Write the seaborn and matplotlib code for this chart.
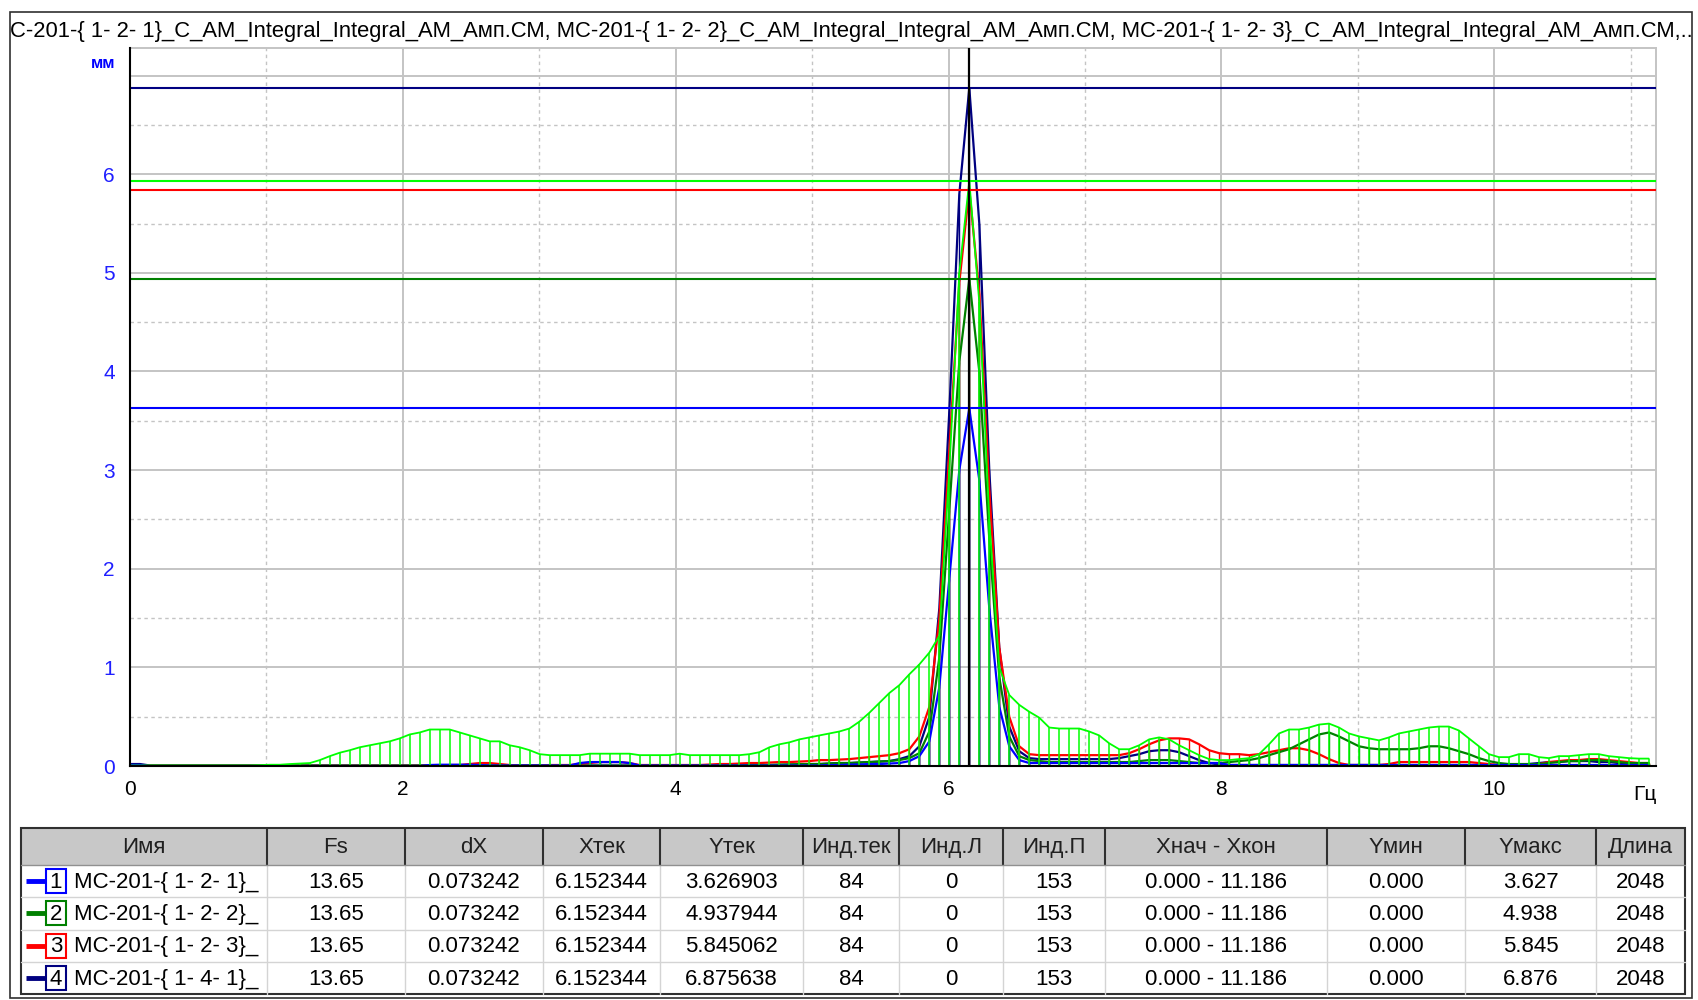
import numpy as np
import pandas as pd
import matplotlib
matplotlib.use("Agg")
import matplotlib.pyplot as plt
import seaborn as sns
from matplotlib.patches import Rectangle
from matplotlib.lines import Line2D
from matplotlib.ticker import MultipleLocator, FixedLocator, FixedFormatter

# ---------------- data ----------------
DX = 0.073242
X_END = 11.186
X_CURSOR = 6.152344

# series 5 (lime, drawn with stems) - 153 samples
lime = ([0.005] * 13 + [0.008] +
        [0.013, 0.013, 0.02, 0.025, 0.03, 0.06] +
        [0.10, 0.135, 0.16, 0.19, 0.21, 0.23, 0.25, 0.28, 0.32, 0.34] +
        [0.37, 0.37, 0.37, 0.34, 0.31, 0.28, 0.25, 0.25, 0.21, 0.19] +
        [0.16, 0.12, 0.11, 0.11, 0.11, 0.11, 0.125, 0.125, 0.125, 0.125] +
        [0.125, 0.11, 0.11, 0.11, 0.11, 0.125, 0.11, 0.11, 0.11, 0.11] +
        [0.11, 0.11, 0.12, 0.14, 0.19, 0.22, 0.24, 0.27, 0.29, 0.31] +
        [0.33, 0.35, 0.38, 0.45, 0.54, 0.64, 0.74, 0.82, 0.93, 1.03] +
        [1.15, 1.32, 3.0, 5.0, 5.93, 4.7, 2.5, 1.0, 0.72, 0.62] +
        [0.55, 0.49, 0.39, 0.38, 0.38, 0.38, 0.35, 0.31, 0.23, 0.17] +
        [0.17, 0.21, 0.27, 0.29, 0.27, 0.21, 0.16, 0.11, 0.07, 0.06] +
        [0.06, 0.07, 0.08, 0.12, 0.22, 0.33, 0.37, 0.37, 0.39, 0.42] +
        [0.43, 0.39, 0.33, 0.30, 0.28, 0.26, 0.29, 0.33, 0.35, 0.37] +
        [0.39, 0.40, 0.40, 0.36, 0.28, 0.20, 0.12, 0.09, 0.09, 0.12] +
        [0.12, 0.09, 0.08, 0.10, 0.10, 0.11, 0.12, 0.12, 0.10, 0.09] +
        [0.08, 0.075, 0.075])

s1_blue = ([0.01, 0.01] + [0.0] * 28 +
           [0.01, 0.013, 0.013, 0.013, 0.013, 0.01, 0.005, 0.005, 0.005, 0.005] +
           [0.005] * 5 + [0.03, 0.04, 0.04, 0.04, 0.04] +
           [0.03] + [0.005] * 19 +
           [0.01, 0.01, 0.015, 0.015, 0.02, 0.02, 0.025, 0.03, 0.05, 0.1] +
           [0.25, 0.8, 1.9, 3.0, 3.627, 2.9, 1.6, 0.6, 0.2, 0.06] +
           [0.03] * 20 + [0.01] * 43)

s2_green = ([0.003] * 60 +
            [0.005, 0.005, 0.01, 0.01, 0.01, 0.015, 0.015, 0.02, 0.02, 0.02] +
            [0.025, 0.03, 0.03, 0.035, 0.04, 0.045, 0.05, 0.06, 0.08, 0.13] +
            [0.35, 1.1, 2.6, 4.1, 4.938, 4.0, 2.3, 0.9, 0.3, 0.1] +
            [0.06, 0.05, 0.04, 0.04, 0.04, 0.04, 0.04, 0.04, 0.04, 0.04] +
            [0.04, 0.05, 0.06, 0.06, 0.06, 0.05, 0.04, 0.03, 0.03, 0.03] +
            [0.04, 0.05, 0.06, 0.08, 0.11, 0.14, 0.17, 0.22, 0.27, 0.32] +
            [0.34, 0.30, 0.25, 0.20, 0.18, 0.17, 0.17, 0.17, 0.17, 0.18] +
            [0.20, 0.20, 0.18, 0.15, 0.12, 0.08, 0.05, 0.03, 0.02, 0.02] +
            [0.02, 0.02, 0.03, 0.04, 0.05, 0.05, 0.06, 0.06, 0.05, 0.04] +
            [0.03, 0.03, 0.03])

s3_red = ([0.003] * 30 +
          [0.005, 0.005, 0.01, 0.01, 0.02, 0.03, 0.03, 0.02] +
          [0.01, 0.005, 0.005, 0.005, 0.01, 0.01, 0.01] +
          [0.02, 0.03, 0.04, 0.04, 0.04, 0.03] +
          [0.01, 0.01, 0.01, 0.01, 0.01, 0.01, 0.01, 0.015, 0.02] +
          [0.02, 0.025, 0.03, 0.03, 0.035, 0.04, 0.04, 0.045, 0.05, 0.06] +
          [0.06, 0.065, 0.07, 0.08, 0.09, 0.1, 0.11, 0.13, 0.17, 0.3] +
          [0.6, 1.5, 3.2, 4.9, 5.845, 4.8, 2.8, 1.2, 0.5, 0.2] +
          [0.12, 0.11, 0.11, 0.11, 0.11, 0.11, 0.11, 0.11, 0.11, 0.11] +
          [0.13, 0.17, 0.22, 0.26, 0.28, 0.28, 0.27, 0.22, 0.16, 0.13] +
          [0.12, 0.12, 0.11, 0.12, 0.14, 0.16, 0.18, 0.18, 0.16, 0.12] +
          [0.07, 0.03, 0.01, 0.01, 0.01, 0.01, 0.02, 0.04, 0.04, 0.04] +
          [0.04, 0.04, 0.04, 0.04, 0.04, 0.03, 0.02, 0.01, 0.01, 0.01] +
          [0.01, 0.02, 0.04, 0.05, 0.06, 0.06, 0.07, 0.07, 0.06, 0.05] +
          [0.04, 0.03, 0.03])

s4_navy = ([0.02, 0.02] + [0.005] * 60 +
           [0.01, 0.01, 0.01, 0.01, 0.015, 0.015, 0.02, 0.02] +
           [0.025, 0.03, 0.03, 0.035, 0.04, 0.045, 0.05, 0.07, 0.1, 0.2] +
           [0.5, 1.6, 3.6, 5.8, 6.876, 5.5, 3.0, 1.2, 0.4, 0.15] +
           [0.08, 0.07, 0.07, 0.07, 0.07, 0.07, 0.07, 0.07, 0.07, 0.08] +
           [0.1, 0.12, 0.15, 0.16, 0.16, 0.14, 0.1, 0.06, 0.03, 0.015] +
           [0.01] * 30 +
           [0.02, 0.03, 0.04, 0.04, 0.05, 0.05, 0.05, 0.04, 0.04, 0.03] +
           [0.02, 0.02, 0.02])

series_names = ["МС-201-{ 1- 2- 1}_", "МС-201-{ 1- 2- 2}_",
                "МС-201-{ 1- 2- 3}_", "МС-201-{ 1- 4- 1}_"]
series_colors = ["#0000ff", "#008000", "#ff0000", "#000080"]
lime_color = "#00ff00"
y_max = [3.627, 4.938, 5.845, 6.876]
lime_max = 5.93

col_headers = ["Имя", "Fs", "dX", "Xтек", "Yтек", "Инд.тек", "Инд.Л",
               "Инд.П", "Xнач - Xкон", "Yмин", "Yмакс", "Длина"]
fs_vals = ["13.65", "13.65", "13.65", "13.65"]
dx_vals = ["0.073242", "0.073242", "0.073242", "0.073242"]
xtek_vals = ["6.152344", "6.152344", "6.152344", "6.152344"]
ytek_vals = ["3.626903", "4.937944", "5.845062", "6.875638"]
indtek_vals = ["84", "84", "84", "84"]
indl_vals = ["0", "0", "0", "0"]
indp_vals = ["153", "153", "153", "153"]
xrange_vals = ["0.000 - 11.186"] * 4
ymin_vals = ["0.000", "0.000", "0.000", "0.000"]
ymax_vals = ["3.627", "4.938", "5.845", "6.876"]
len_vals = ["2048", "2048", "2048", "2048"]

title = ("С-201-{ 1- 2- 1}_С_АМ_Integral_Integral_АМ_Амп.СМ, "
         "МС-201-{ 1- 2- 2}_С_АМ_Integral_Integral_АМ_Амп.СМ, "
         "МС-201-{ 1- 2- 3}_С_АМ_Integral_Integral_АМ_Амп.СМ,..")

# ---------------- figure ----------------
sns.set_style("white")
plt.rcParams['font.family'] = ['Liberation Sans', 'DejaVu Sans']

W, H = 1699, 1000
fig = plt.figure(figsize=(W / 100, H / 100), dpi=100)
fig.patch.set_facecolor("white")

def fx(px):
    return px / W

def fy(py):
    return 1 - py / H

n = len(lime)
x = np.arange(n) * DX
df = pd.DataFrame({"x": x, "s1": s1_blue, "s2": s2_green, "s3": s3_red,
                   "s4": s4_navy, "s5": lime})

ax_l, ax_t, ax_r, ax_b = 130, 48, 1656, 766
ax = fig.add_axes([fx(ax_l), fy(ax_b), fx(ax_r - ax_l), (ax_b - ax_t) / H])
ax.set_xlim(0, X_END)
ax.set_ylim(0, 7.28)

# grid
grid_c = "#c4c4c4"
for yv in range(1, 8):
    ax.axhline(yv, color=grid_c, lw=1.4, zorder=0)
for yv in np.arange(0.5, 7, 1.0):
    ax.axhline(yv, color=grid_c, lw=1.0, ls=(0, (2.5, 2.5)), zorder=0)
for xv in [2, 4, 6, 8, 10]:
    ax.axvline(xv, color=grid_c, lw=1.4, zorder=0)
for xv in [1, 3, 5, 7, 9, 11]:
    ax.axvline(xv, color=grid_c, lw=1.0, ls=(0, (2.5, 2.5)), zorder=0)

# series: stems + lines
order = [("s4", series_colors[3]), ("s3", series_colors[2]),
         ("s2", series_colors[1]), ("s1", series_colors[0])]
z = 2
for key, c in order:
    ax.vlines(df["x"], 0, df[key], color=c, lw=1.0, zorder=z)
    sns.lineplot(data=df, x="x", y=key, color=c, lw=1.6, ax=ax,
                 estimator=None, sort=False, zorder=z + 0.5)
    z += 1
ax.vlines(df["x"], 0, df["s5"], color=lime_color, lw=1.1, zorder=z)
sns.lineplot(data=df, x="x", y="s5", color=lime_color, lw=1.3, ax=ax,
             estimator=None, sort=False, zorder=z + 0.5)

# max lines
for v, c in zip(y_max, series_colors):
    ax.axhline(v, color=c, lw=1.5, zorder=8)
ax.axhline(lime_max, color=lime_color, lw=1.5, zorder=8)

# cursor
ax.axvline(X_CURSOR, color="black", lw=1.6, zorder=10)

ax.set_xlabel("")
ax.set_ylabel("")

# spines / ticks
for s in ["left", "bottom"]:
    ax.spines[s].set_color("black")
    ax.spines[s].set_linewidth(1.5)
    ax.spines[s].set_zorder(12)
for s in ["top", "right"]:
    ax.spines[s].set_color("#c4c4c4")
    ax.spines[s].set_linewidth(1.4)

ax.xaxis.set_major_locator(FixedLocator([0, 2, 4, 6, 8, 10]))
ax.xaxis.set_major_formatter(FixedFormatter(["0", "2", "4", "6", "8", "10"]))
ax.xaxis.set_minor_locator(MultipleLocator(0.2))
ax.yaxis.set_major_locator(FixedLocator([0, 1, 2, 3, 4, 5, 6, 7]))
ax.yaxis.set_major_formatter(FixedFormatter(["0", "1", "2", "3", "4", "5", "6", ""]))
ax.yaxis.set_minor_locator(MultipleLocator(0.1))
ax.tick_params(axis="x", which="major", direction="out", length=6, width=1.3,
               color="black", labelsize=15, pad=4, labelcolor="black")
ax.tick_params(axis="x", which="minor", direction="out", length=3, width=1.0,
               color="black")
ax.tick_params(axis="y", which="major", direction="out", length=6, width=1.3,
               color="black", labelsize=15, pad=5, labelcolor="#1f1fff")
ax.tick_params(axis="y", which="minor", direction="out", length=3, width=1.0,
               color="black")

# axis unit labels
fig.text(fx(115), fy(63), "мм", ha="right", va="center", color="#0000ff",
         fontsize=12, fontweight="bold")
fig.text(fx(1645), fy(795), "Гц", ha="center", va="center", color="black",
         fontsize=15)

# title
fig.text(fx(10), fy(31), title, ha="left", va="center", fontsize=15.8,
         color="black")

# outer frame
fig.patches.append(Rectangle((fx(10), fy(998)), fx(1692 - 10), (998 - 12) / H,
                             transform=fig.transFigure, fill=False,
                             edgecolor="#303030", lw=1.2))

# ---------------- table ----------------
col_x = [21, 267, 405, 543, 660, 803, 899, 1003, 1105, 1327, 1465, 1596, 1685]
row_y = [828, 865, 897.3, 929.6, 961.9, 994.2]

fig.patches.append(Rectangle((fx(col_x[0]), fy(row_y[1])),
                             fx(col_x[-1] - col_x[0]), (row_y[1] - row_y[0]) / H,
                             transform=fig.transFigure, facecolor="#c8c8c8",
                             edgecolor="none"))

def hline(x0, x1, y, c, lw):
    fig.lines.append(Line2D([fx(x0), fx(x1)], [fy(y), fy(y)],
                            transform=fig.transFigure, color=c, lw=lw))

def vline(x, y0, y1, c, lw):
    fig.lines.append(Line2D([fx(x), fx(x)], [fy(y0), fy(y1)],
                            transform=fig.transFigure, color=c, lw=lw))

for yy in row_y[2:-1]:
    hline(col_x[0], col_x[-1], yy, "#d4d4d4", 1.0)
for xx in col_x[1:-1]:
    vline(xx, row_y[1], row_y[-1], "#d4d4d4", 1.0)
    vline(xx, row_y[0], row_y[1], "#303030", 1.5)
hline(col_x[0], col_x[-1], row_y[1], "#909090", 1.0)
fig.patches.append(Rectangle((fx(col_x[0]), fy(row_y[-1])),
                             fx(col_x[-1] - col_x[0]), (row_y[-1] - row_y[0]) / H,
                             transform=fig.transFigure, fill=False,
                             edgecolor="#303030", lw=1.5))

tfs = 16
for j, h in enumerate(col_headers):
    fig.text(fx((col_x[j] + col_x[j + 1]) / 2), fy((row_y[0] + row_y[1]) / 2 + 1),
             h, ha="center", va="center", fontsize=tfs, color="#202020")

columns = [fs_vals, dx_vals, xtek_vals, ytek_vals, indtek_vals, indl_vals,
           indp_vals, xrange_vals, ymin_vals, ymax_vals, len_vals]
for i in range(4):
    yc = (row_y[i + 1] + row_y[i + 2]) / 2
    c = series_colors[i]
    fig.lines.append(Line2D([fx(26), fx(46)], [fy(yc), fy(yc)],
                            transform=fig.transFigure, color=c, lw=3.5,
                            solid_capstyle="butt"))
    fig.patches.append(Rectangle((fx(46), fy(yc + 12)), fx(20), 24 / H,
                                 transform=fig.transFigure, facecolor="white",
                                 edgecolor=c, lw=1.5))
    fig.text(fx(56), fy(yc + 1), str(i + 1), ha="center", va="center",
             fontsize=tfs, color="black")
    fig.text(fx(74), fy(yc + 1), series_names[i], ha="left", va="center",
             fontsize=tfs, color="black")
    for j, col in enumerate(columns):
        fig.text(fx((col_x[j + 1] + col_x[j + 2]) / 2), fy(yc + 1), col[i],
                 ha="center", va="center", fontsize=tfs, color="black")

fig.savefig("out.png", dpi=100, facecolor="white")
